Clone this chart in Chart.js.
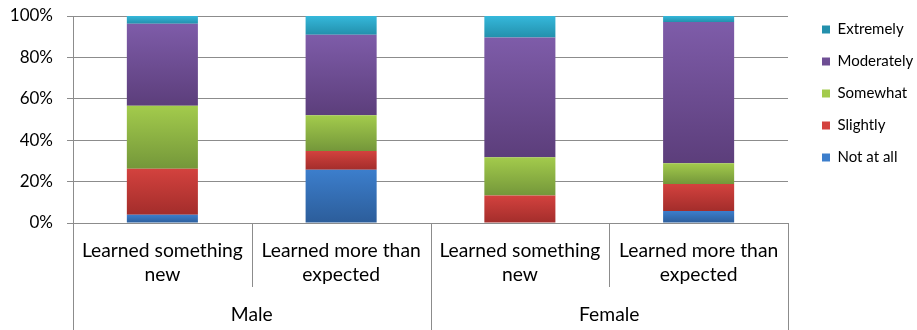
<!DOCTYPE html>
<html>
<head>
<meta charset="utf-8">
<script src="https://cdn.jsdelivr.net/npm/chart.js@4"></script>
<style>
  html, body { margin: 0; padding: 0; background: #fff; }
  #c { display: block; }
</style>
</head>
<body>
<canvas id="c" width="917" height="330"></canvas>
<script>
const categories = [["Learned something", "new"], ["Learned more than", "expected"], ["Learned something", "new"], ["Learned more than", "expected"]];
const groups = ["Male", "Female"];
const seriesNames = ["Not at all", "Slightly", "Somewhat", "Moderately", "Extremely"];
const notAtAll   = [4.0, 25.7, 0.0, 5.8];
const slightly   = [22.2, 9.1, 13.3, 13.1];
const somewhat   = [30.5, 17.2, 18.5, 10.0];
const moderately = [39.6, 39.0, 57.8, 68.2];
const extremely  = [3.7, 9.0, 10.4, 2.9];
const yTicks = [0, 20, 40, 60, 80, 100];

const seriesValues = [notAtAll, slightly, somewhat, moderately, extremely];
const colorTop = ['#3C7ECC', '#D3423E', '#A3CB4C', '#7E5CA9', '#35B8DB'];
const colorBot = ['#2C5D9A', '#A32D2B', '#74973A', '#5C3E7B', '#2390AC'];
const colorMid = ['#3570B8', '#C0504D', '#8DB443', '#6E4E93', '#2DA6C6'];

const FONT = 'Lato, "Open Sans", sans-serif';
const GRID = '#8C8C8C';

function gradFor(si) {
  return function (ctx) {
    if (ctx.type !== 'data') return colorMid[si];
    const chart = ctx.chart;
    const y = chart.scales.y;
    if (!chart.chartArea || !y) return colorMid[si];
    let start = 0;
    for (let k = 0; k < si; k++) start += seriesValues[k][ctx.dataIndex];
    const end = start + seriesValues[si][ctx.dataIndex];
    const top = y.getPixelForValue(end), bot = y.getPixelForValue(start);
    if (!isFinite(top) || !isFinite(bot) || Math.abs(bot - top) < 0.5) return colorMid[si];
    const g = chart.ctx.createLinearGradient(0, top, 0, bot);
    g.addColorStop(0, colorTop[si]);
    g.addColorStop(1, colorBot[si]);
    return g;
  };
}

const datasets = seriesNames.map((name, i) => ({
  label: name,
  data: seriesValues[i],
  backgroundColor: gradFor(i),
  borderWidth: 0,
  barPercentage: 0.795,
  categoryPercentage: 0.5,
  xAxisID: 'x',
  yAxisID: 'y'
}));

const separators = {
  id: 'separators',
  afterDraw(chart) {
    const x = chart.scales.x;
    const ca = chart.chartArea;
    const n = categories.length;
    const w = (x.right - x.left) / n;
    const c = chart.ctx;
    c.save();
    c.strokeStyle = GRID;
    c.lineWidth = 1;
    c.beginPath();
    for (let i = 0; i <= n; i++) {
      const px = Math.round(x.left + i * w) + 0.5;
      const bottom = (i % 2 === 0) ? chart.height : x.bottom - 16;
      c.moveTo(px, ca.bottom);
      c.lineTo(px, bottom);
    }
    c.stroke();
    c.restore();
  }
};

new Chart(document.getElementById('c'), {
  type: 'bar',
  data: { labels: categories, datasets },
  plugins: [separators],
  options: {
    responsive: false,
    animation: false,
    devicePixelRatio: 1,
    layout: { padding: { top: 5, right: 0, bottom: 0, left: 0 } },
    plugins: {
      tooltip: { enabled: false },
      legend: {
        position: 'right',
        align: 'start',
        reverse: true,
        maxWidth: 112,
        labels: {
          boxWidth: 8,
          boxHeight: 8,
          padding: 17,
          color: '#000',
          font: { family: FONT, size: 15 }
        }
      }
    },
    scales: {
      x: {
        stacked: true,
        position: 'bottom',
        grid: { display: false, drawTicks: false },
        border: { display: false },
        ticks: {
          color: '#000',
          padding: 16,
          maxRotation: 0,
          autoSkip: false,
          font: { family: FONT, size: 19.3, lineHeight: 1.25 }
        },
        afterFit(s) { s.height = 80; }
      },
      x2: {
        type: 'category',
        labels: groups,
        position: 'bottom',
        offset: true,
        grid: { display: false, drawTicks: false },
        border: { display: false },
        ticks: {
          color: '#000',
          padding: 0,
          maxRotation: 0,
          autoSkip: false,
          font: { family: FONT, size: 19.3, lineHeight: 1.25 }
        },
        afterFit(s) { s.height = 27; }
      },
      y: {
        stacked: true,
        min: 0,
        max: 100,
        afterBuildTicks(s) { s.ticks = yTicks.map(v => ({ value: v })); },
        grid: { color: GRID, lineWidth: 1, drawTicks: true, tickLength: 6 },
        border: { display: true, color: GRID, width: 1 },
        ticks: {
          color: '#000',
          padding: 14,
          font: { family: FONT, size: 17 },
          callback: v => v + '%'
        },
        afterFit(s) { s.width = 73; s.paddingTop = 16; }
      },
      gap: {
        type: 'linear',
        position: 'right',
        display: true,
        grid: { display: false, drawTicks: false },
        border: { display: false },
        ticks: { display: false },
        afterFit(s) { s.width = 17; }
      }
    }
  }
});
</script>
</body>
</html>
